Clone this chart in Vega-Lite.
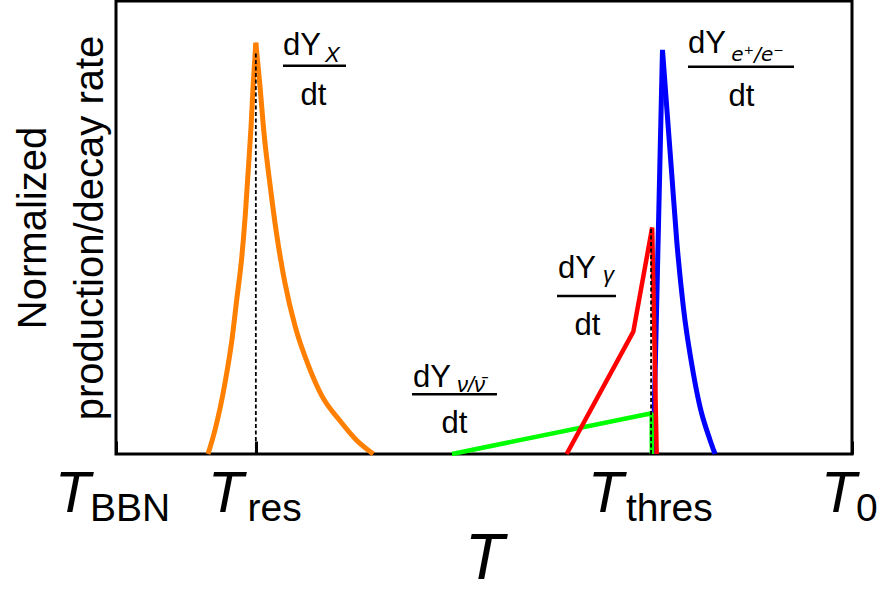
{
  "$schema": "https://vega.github.io/schema/vega-lite/v6.json",
  "width": 736,
  "height": 453,
  "autosize": {"type": "none"},
  "padding": {"left": 116, "top": 1, "right": 32, "bottom": 140},
  "background": "white",
  "config": {
    "view": {"stroke": "black", "strokeWidth": 3},
    "font": "Liberation Sans"
  },
  "datasets": {
    "smooth": [
      {"s": "orange", "leg": "oL", "x": 12.5, "y": 0},
      {"s": "orange", "leg": "oL", "x": 13.45, "y": 0.053},
      {"s": "orange", "leg": "oL", "x": 14.8, "y": 0.156},
      {"s": "orange", "leg": "oL", "x": 15.75, "y": 0.252},
      {"s": "orange", "leg": "oL", "x": 16.4, "y": 0.34},
      {"s": "orange", "leg": "oL", "x": 17.05, "y": 0.428},
      {"s": "orange", "leg": "oL", "x": 17.55, "y": 0.524},
      {"s": "orange", "leg": "oL", "x": 18.0, "y": 0.634},
      {"s": "orange", "leg": "oL", "x": 18.35, "y": 0.723},
      {"s": "orange", "leg": "oL", "x": 18.65, "y": 0.818},
      {"s": "orange", "leg": "oL", "x": 19.0, "y": 0.908},
      {"s": "orange", "leg": "oR", "x": 19.0, "y": 0.908},
      {"s": "orange", "leg": "oR", "x": 19.53, "y": 0.818},
      {"s": "orange", "leg": "oR", "x": 20.11, "y": 0.708},
      {"s": "orange", "leg": "oR", "x": 20.9, "y": 0.598},
      {"s": "orange", "leg": "oR", "x": 21.8, "y": 0.488},
      {"s": "orange", "leg": "oR", "x": 22.95, "y": 0.378},
      {"s": "orange", "leg": "oR", "x": 24.35, "y": 0.281},
      {"s": "orange", "leg": "oR", "x": 26.2, "y": 0.193},
      {"s": "orange", "leg": "oR", "x": 28.05, "y": 0.126},
      {"s": "orange", "leg": "oR", "x": 30.35, "y": 0.075},
      {"s": "orange", "leg": "oR", "x": 32.65, "y": 0.031},
      {"s": "orange", "leg": "oR", "x": 34.96, "y": 0},
      {"s": "blue", "leg": "bL", "x": 73.0, "y": 0},
      {"s": "blue", "leg": "bL", "x": 74.25, "y": 0.892},
      {"s": "blue", "leg": "bR", "x": 74.25, "y": 0.892},
      {"s": "blue", "leg": "bR", "x": 74.82, "y": 0.767},
      {"s": "blue", "leg": "bR", "x": 75.5, "y": 0.62},
      {"s": "blue", "leg": "bR", "x": 76.18, "y": 0.472},
      {"s": "blue", "leg": "bR", "x": 77.08, "y": 0.325},
      {"s": "blue", "leg": "bR", "x": 78.44, "y": 0.178},
      {"s": "blue", "leg": "bR", "x": 79.35, "y": 0.104},
      {"s": "blue", "leg": "bR", "x": 80.71, "y": 0.031},
      {"s": "blue", "leg": "bR", "x": 81.39, "y": 0}
    ],
    "straight": [
      {"s": "green", "x": 45.65, "y": 0},
      {"s": "green", "x": 72.78, "y": 0.09},
      {"s": "green", "x": 72.8, "y": 0},
      {"s": "red", "x": 61.23, "y": 0},
      {"s": "red", "x": 70.29, "y": 0.27},
      {"s": "red", "x": 72.85, "y": 0.5},
      {"s": "red", "x": 73.46, "y": 0}
    ],
    "dashes": [
      {"x": 19.0, "y": 0, "y2": 0.885},
      {"x": 72.7, "y": 0, "y2": 0.497}
    ],
    "bars": [
      {"x": 22.69, "x2": 31.25, "y": 0.857},
      {"x": 59.92, "x2": 67.93, "y": 0.349},
      {"x": 77.72, "x2": 92.12, "y": 0.855},
      {"x": 40.22, "x2": 51.77, "y": 0.132}
    ],
    "numer": [
      {"x": 22.69, "y": 0.881, "t": "dY"},
      {"x": 60.05, "y": 0.389, "t": "dY"},
      {"x": 77.72, "y": 0.885, "t": "dY"},
      {"x": 40.35, "y": 0.148, "t": "dY"}
    ],
    "subs": [
      {"x": 28.4, "y": 0.865, "t": "X"},
      {"x": 66.17, "y": 0.38, "t": "γ"},
      {"x": 46.33, "y": 0.137, "t": "ν/ν̄"}
    ],
    "subE": [
      {"x": 83.6, "y": 0.868, "t": "e⁺/e⁻"}
    ],
    "denom": [
      {"x": 26.83, "y": 0.77, "t": "dt"},
      {"x": 64.06, "y": 0.263, "t": "dt"},
      {"x": 84.99, "y": 0.768, "t": "dt"},
      {"x": 45.99, "y": 0.046, "t": "dt"}
    ],
    "tickT": [
      {"x": -8.29, "y": -0.128, "t": "T"},
      {"x": 12.5, "y": -0.128, "t": "T"},
      {"x": 64.13, "y": -0.128, "t": "T"},
      {"x": 95.79, "y": -0.128, "t": "T"}
    ],
    "tickSub": [
      {"x": -3.53, "y": -0.148, "t": "BBN"},
      {"x": 17.87, "y": -0.148, "t": "res"},
      {"x": 69.29, "y": -0.148, "t": "thres"},
      {"x": 100.54, "y": -0.148, "t": "0"}
    ]
  },
  "encoding": {
    "x": {
      "field": "x",
      "type": "quantitative",
      "scale": {"domain": [0, 100], "nice": false, "zero": false},
      "axis": {
        "values": [0, 19, 72.7, 100],
        "labels": false,
        "grid": false,
        "domain": false,
        "ticks": true,
        "tickSize": -13,
        "tickWidth": 3,
        "tickColor": "black",
        "title": "T",
        "titleFont": "Liberation Sans",
        "titleFontStyle": "italic",
        "titleFontWeight": "normal",
        "titleFontSize": 64,
        "titleColor": "black",
        "titlePadding": 72
      }
    },
    "y": {
      "field": "y",
      "type": "quantitative",
      "scale": {"domain": [0, 1], "nice": false, "zero": false},
      "axis": {
        "labels": false,
        "ticks": false,
        "grid": false,
        "domain": false,
        "title": ["Normalized", "production/decay rate"],
        "titleFont": "Liberation Sans",
        "titleFontWeight": "normal",
        "titleFontSize": 40,
        "titleLineHeight": 57,
        "titleColor": "black",
        "titlePadding": 6
      }
    }
  },
  "layer": [
    {
      "data": {"name": "smooth"},
      "mark": {"type": "line", "strokeWidth": 5, "strokeJoin": "bevel", "strokeCap": "butt", "interpolate": "monotone"},
      "encoding": {
        "color": {
          "field": "s",
          "type": "nominal",
          "scale": {"domain": ["orange", "green", "red", "blue"], "range": ["#ff7f00", "#00ff00", "#ff0000", "#0000ff"]},
          "legend": null
        },
        "detail": {"field": "leg", "type": "nominal"}
      }
    },
    {
      "data": {"name": "straight"},
      "mark": {"type": "line", "strokeWidth": 4.5, "strokeJoin": "bevel", "strokeCap": "butt"},
      "encoding": {
        "color": {
          "field": "s",
          "type": "nominal",
          "scale": {"domain": ["orange", "green", "red", "blue"], "range": ["#ff7f00", "#00ff00", "#ff0000", "#0000ff"]},
          "legend": null
        }
      }
    },
    {
      "data": {"name": "dashes"},
      "mark": {"type": "rule", "color": "black", "strokeWidth": 1.8, "strokeDash": [4, 2.5]},
      "encoding": {"y2": {"field": "y2"}}
    },
    {
      "data": {"name": "bars"},
      "mark": {"type": "rule", "color": "black", "strokeWidth": 2.5},
      "encoding": {"x2": {"field": "x2"}}
    },
    {
      "data": {"name": "numer"},
      "mark": {"type": "text", "align": "left", "baseline": "alphabetic", "fontSize": 31, "font": "Liberation Sans", "color": "black"},
      "encoding": {"text": {"field": "t"}}
    },
    {
      "data": {"name": "subs"},
      "mark": {"type": "text", "align": "left", "baseline": "alphabetic", "fontSize": 22, "fontStyle": "italic", "font": "Liberation Sans", "color": "black"},
      "encoding": {"text": {"field": "t"}}
    },
    {
      "data": {"name": "subE"},
      "mark": {"type": "text", "align": "left", "baseline": "alphabetic", "fontSize": 20, "fontStyle": "italic", "font": "DejaVu Sans", "color": "black"},
      "encoding": {"text": {"field": "t"}}
    },
    {
      "data": {"name": "denom"},
      "mark": {"type": "text", "align": "center", "baseline": "alphabetic", "fontSize": 31, "font": "Liberation Sans", "color": "black"},
      "encoding": {"text": {"field": "t"}}
    },
    {
      "data": {"name": "tickT"},
      "mark": {"type": "text", "align": "left", "baseline": "alphabetic", "fontSize": 58, "fontStyle": "italic", "font": "Liberation Sans", "color": "black"},
      "encoding": {"text": {"field": "t"}}
    },
    {
      "data": {"name": "tickSub"},
      "mark": {"type": "text", "align": "left", "baseline": "alphabetic", "fontSize": 39, "font": "Liberation Sans", "color": "black"},
      "encoding": {"text": {"field": "t"}}
    }
  ]
}
